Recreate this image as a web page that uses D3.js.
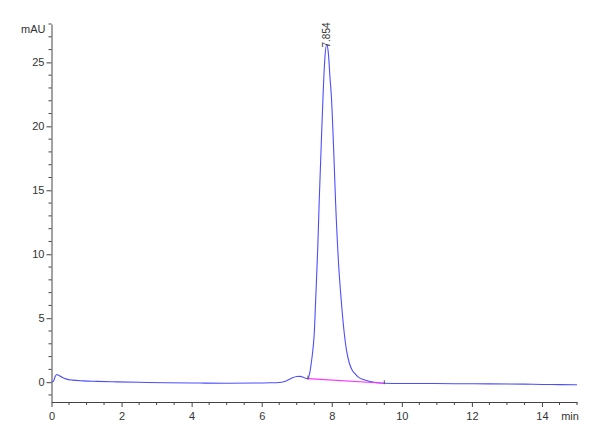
<!DOCTYPE html>
<html>
<head>
<meta charset="utf-8">
<script src="https://cdn.jsdelivr.net/npm/d3@7"></script>
<style>
  body { margin: 0; background: #fff; }
  #chart { width: 600px; height: 440px; }
  text { font-family: "Liberation Sans Narrow", "Liberation Sans", Arial, sans-serif; fill: #333; }
</style>
</head>
<body>
<div id="chart"></div>
<script>
// Chromatogram trace: retention time (min) and absorbance (mAU)
const times = [0, 0.05, 0.1, 0.15, 0.2, 0.3, 0.43, 0.6, 0.9, 1.3, 1.86, 2.5, 3.28, 4.23, 5.0, 5.8, 6.23,
    6.5, 6.7, 6.85, 7.0, 7.1, 7.2, 7.32, 7.37, 7.42, 7.46, 7.5, 7.54, 7.6, 7.64, 7.7, 7.75, 7.8, 7.854,
    7.9, 7.95, 7.99, 8.05, 8.11, 8.2, 8.27, 8.35, 8.42, 8.5, 8.58, 8.65, 8.75, 8.9, 9.1, 9.5,
    10, 10.5, 11.5, 12.5, 13.5, 14, 14.5, 15];
const signal = [0.02, 0.05, 0.4, 0.6, 0.55, 0.38, 0.24, 0.16, 0.1, 0.06, 0.02, -0.01, -0.05, -0.07, -0.08, -0.07, -0.05,
    -0.02, 0.1, 0.3, 0.44, 0.45, 0.36, 0.28, 0.7, 1.6, 2.5, 3.8, 6.4, 10.5, 14, 18.6, 22.3, 25.2, 26.4,
    25.8, 23.8, 22.3, 18.5, 14, 9, 6.4, 4.0, 2.5, 1.5, 0.95, 0.7, 0.42, 0.2, 0.05, -0.08,
    -0.1, -0.1, -0.12, -0.13, -0.15, -0.18, -0.19, -0.2];

// Integration baseline under the main peak
const baselineTimes = [7.32, 9.5];
const baselineValues = [0.28, -0.08];

// Peak annotation
const peakLabels = ["7.854"];
const peakTimes = [7.854];
const peakHeights = [26.4];

// Axis ticks
const xMajorTicks = [0, 2, 4, 6, 8, 10, 12, 14];
const yMajorTicks = [0, 5, 10, 15, 20, 25];

const width = 600;
const height = 440;
const margin = { top: 24, right: 23, bottom: 38, left: 51.5 };

const svg = d3.select("#chart")
    .append("svg")
    .attr("width", width)
    .attr("height", height);

// Scales
const xScale = d3.scaleLinear()
    .domain([0, 15])
    .range([margin.left, width - margin.right]);

const yScale = d3.scaleLinear()
    .domain([-1.55, 28])
    .range([height - margin.bottom, margin.top]);

// X axis: major ticks labelled, minor ticks every 0.5 min
const xMinor = d3.range(0, 15.01, 0.5).filter(d => !xMajorTicks.includes(d));
const xAxisY = height - margin.bottom;

svg.append("g")
    .attr("transform", `translate(0, ${xAxisY})`)
    .call(d3.axisBottom(xScale).tickValues(xMajorTicks).tickSize(5).tickPadding(5).tickSizeOuter(0))
    .call(g => g.select(".domain").attr("stroke", "#444"))
    .call(g => g.selectAll(".tick line").attr("stroke", "#444"))
    .call(g => g.selectAll("text").attr("font-size", 11).style("fill", "#333"));

svg.append("g")
    .attr("transform", `translate(0, ${xAxisY})`)
    .selectAll("line")
    .data(xMinor)
    .join("line")
    .attr("x1", d => xScale(d))
    .attr("x2", d => xScale(d))
    .attr("y1", 0)
    .attr("y2", 3)
    .attr("stroke", "#444");

svg.append("text")
    .attr("x", xScale(15) - 7)
    .attr("y", xAxisY + 18)
    .attr("font-size", 11)
    .attr("text-anchor", "middle")
    .text("min");

// Y axis: major ticks labelled, minor ticks every 1 mAU
const yMinor = d3.range(-1, 28.01, 1).filter(d => !yMajorTicks.includes(d));

svg.append("g")
    .attr("transform", `translate(${margin.left}, 0)`)
    .call(d3.axisLeft(yScale).tickValues(yMajorTicks).tickSize(5).tickPadding(2).tickSizeOuter(0))
    .call(g => g.select(".domain").attr("stroke", "#444"))
    .call(g => g.selectAll(".tick line").attr("stroke", "#444"))
    .call(g => g.selectAll("text").attr("font-size", 11).style("fill", "#333"));

svg.append("g")
    .attr("transform", `translate(${margin.left}, 0)`)
    .selectAll("line")
    .data(yMinor)
    .join("line")
    .attr("x1", -3)
    .attr("x2", 0)
    .attr("y1", d => yScale(d))
    .attr("y2", d => yScale(d))
    .attr("stroke", "#444");

svg.append("text")
    .attr("x", margin.left - 6)
    .attr("y", yScale(28) + 9)
    .attr("font-size", 11)
    .attr("text-anchor", "end")
    .text("mAU");

// Trace
const trace = times.map((t, i) => [t, signal[i]]);
const line = d3.line()
    .x(d => xScale(d[0]))
    .y(d => yScale(d[1]))
    .curve(d3.curveMonotoneX);

svg.append("path")
    .datum(trace)
    .attr("fill", "none")
    .attr("stroke", "#4d4dff")
    .attr("stroke-width", 1.1)
    .attr("d", line);

// Integration baseline and its end marks
const base = baselineTimes.map((t, i) => [t, baselineValues[i]]);
svg.append("path")
    .datum(base)
    .attr("fill", "none")
    .attr("stroke", "#ff33ff")
    .attr("stroke-width", 1.1)
    .attr("d", d3.line().x(d => xScale(d[0])).y(d => yScale(d[1])));

svg.append("g")
    .selectAll("line")
    .data(base)
    .join("line")
    .attr("x1", d => xScale(d[0]))
    .attr("x2", d => xScale(d[0]))
    .attr("y1", d => yScale(d[1]) - 3)
    .attr("y2", d => yScale(d[1]) + 1)
    .attr("stroke", "#333")
    .attr("stroke-width", 0.8);

// Retention time label, rotated above the apex
svg.append("g")
    .selectAll("text")
    .data(peakLabels)
    .join("text")
    .attr("transform", (d, i) => `translate(${xScale(peakTimes[i]) + 0.5}, ${yScale(peakHeights[i]) + 3}) rotate(-90)`)
    .attr("font-size", 10)
    .attr("dominant-baseline", "middle")
    .text(d => d);
</script>
</body>
</html>
